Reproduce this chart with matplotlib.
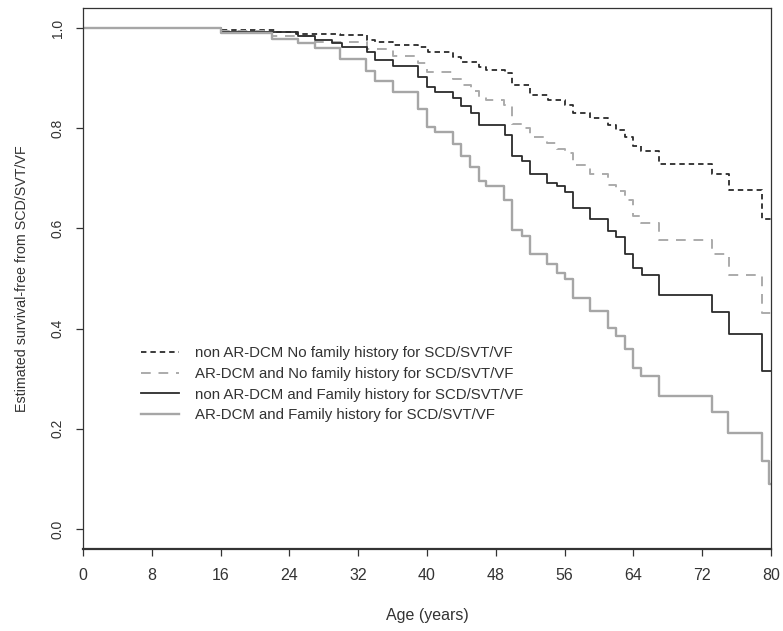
import matplotlib
matplotlib.use("Agg")
import matplotlib.pyplot as plt

plt.rcParams['font.family'] = ['Liberation Sans', 'DejaVu Sans']

# step curves (age in years, survival after the step)
age_nonar_nofam = [0, 16.1, 22.3, 24.8, 29.9, 33.0, 33.9, 36.1, 39.0, 40.1, 43.0, 44.0, 46.1, 46.9,
                   49.1, 49.9, 52.0, 54.1, 56.0, 57.0, 59.0, 61.1, 62.0, 63.0, 64.0, 64.9, 67.0,
                   73.1, 75.1, 79.0, 80]
surv_nonar_nofam = [1.0, 0.996, 0.993, 0.989, 0.986, 0.976, 0.973, 0.967, 0.963, 0.953, 0.943, 0.933,
                    0.923, 0.916, 0.910, 0.886, 0.867, 0.857, 0.847, 0.831, 0.820, 0.807, 0.797, 0.783,
                    0.764, 0.754, 0.729, 0.709, 0.677, 0.619, 0.619]

age_ar_nofam = [0, 16.1, 22.0, 27.0, 33.0, 36.1, 39.0, 40.0, 43.0, 44.0, 45.1, 46.1, 46.9, 48.9,
                49.9, 51.0, 52.0, 54.0, 55.1, 56.0, 57.0, 59.0, 61.1, 62.0, 63.0, 64.0, 64.9, 67.0,
                73.1, 75.1, 79.0, 80]
surv_ar_nofam = [1.0, 0.995, 0.985, 0.973, 0.958, 0.945, 0.930, 0.913, 0.898, 0.886, 0.875, 0.863,
                 0.857, 0.847, 0.809, 0.800, 0.782, 0.770, 0.758, 0.750, 0.726, 0.708, 0.687, 0.674,
                 0.657, 0.624, 0.611, 0.576, 0.548, 0.506, 0.432, 0.432]

age_nonar_fam = [0, 16.1, 25.0, 27.0, 28.9, 30.1, 33.0, 33.9, 36.1, 39.0, 40.0, 40.9, 43.0, 44.0,
                 45.1, 46.1, 49.1, 49.9, 51.0, 52.0, 54.0, 55.1, 56.0, 57.0, 59.0, 61.1, 62.0, 63.0,
                 64.0, 65.0, 67.0, 73.1, 75.1, 79.0, 80]
surv_nonar_fam = [1.0, 0.993, 0.984, 0.976, 0.971, 0.963, 0.952, 0.937, 0.924, 0.903, 0.882, 0.873,
                  0.860, 0.845, 0.830, 0.807, 0.787, 0.744, 0.734, 0.709, 0.691, 0.684, 0.672, 0.641,
                  0.619, 0.595, 0.582, 0.548, 0.521, 0.506, 0.468, 0.434, 0.390, 0.315, 0.315]

age_ar_fam = [0, 16.1, 22.0, 25.0, 27.0, 29.9, 32.9, 33.9, 36.0, 39.0, 40.0, 40.9, 43.0, 44.0, 45.0,
              46.1, 46.9, 48.9, 49.9, 51.0, 52.0, 53.9, 55.1, 56.0, 57.0, 58.9, 61.1, 62.0, 63.0,
              64.0, 64.9, 67.0, 73.1, 75.0, 79.0, 79.8, 80]
surv_ar_fam = [1.0, 0.99, 0.979, 0.970, 0.960, 0.938, 0.914, 0.895, 0.873, 0.838, 0.803, 0.793,
               0.769, 0.745, 0.722, 0.694, 0.684, 0.657, 0.596, 0.584, 0.548, 0.528, 0.511, 0.499,
               0.461, 0.435, 0.401, 0.385, 0.359, 0.322, 0.305, 0.265, 0.233, 0.192, 0.136, 0.09, 0.09]

labels = ["non AR-DCM No family history for SCD/SVT/VF",
          "AR-DCM and No family history for SCD/SVT/VF",
          "non AR-DCM and Family history for SCD/SVT/VF",
          "AR-DCM and Family history for SCD/SVT/VF"]

fig = plt.figure(figsize=(7.83, 6.31), dpi=100)
ax = fig.add_axes([83/783, 1-549/631, (771-83)/783, (549-8)/631])

l1, = ax.step(age_nonar_nofam, surv_nonar_nofam, where='post', color='#2b2b2b', lw=1.3,
              dashes=(3, 2.2))
l2, = ax.step(age_ar_nofam, surv_ar_nofam, where='post', color='#ababab', lw=1.4,
              dashes=(5, 4))
l3, = ax.step(age_nonar_fam, surv_nonar_fam, where='post', color='#2b2b2b', lw=1.3)
l4, = ax.step(age_ar_fam, surv_ar_fam, where='post', color='#a6a6a6', lw=1.7)

ax.set_xlim(0, 80)
ax.set_ylim(-0.04, 1.04)
ax.set_xticks(range(0, 81, 8))
ax.set_yticks([0.0, 0.2, 0.4, 0.6, 0.8, 1.0])
ax.set_yticklabels(["0.0", "0.2", "0.4", "0.6", "0.8", "1.0"], rotation=90, va='center',
                   fontsize=10, color='#333333')
ax.set_xticklabels([str(v) for v in range(0, 81, 8)], fontsize=11.5, color='#333333')
ax.tick_params(axis='both', direction='out', length=5, width=0.9, color='#333333')
ax.tick_params(axis='y', pad=8)
ax.tick_params(axis='x', pad=9)
for sp in ax.spines.values():
    sp.set_color('#333333')
    sp.set_linewidth(0.9)
ax.spines['bottom'].set_linewidth(1.6)

ax.set_ylabel("Estimated survival-free from SCD/SVT/VF", fontsize=10.3, color='#333333',
              labelpad=16)
ax.set_xlabel("Age (years)", fontsize=11.5, color='#333333', labelpad=18)

ax.legend([l1, l2, l3, l4], labels, frameon=False, loc='upper left',
          bbox_to_anchor=(141/783, 1-346/631), bbox_transform=fig.transFigure,
          fontsize=10.8, handlelength=2.5, handletextpad=1.1, labelspacing=0.45,
          borderpad=0, borderaxespad=0, labelcolor='#333333')

fig.savefig("out.png", dpi=100)
